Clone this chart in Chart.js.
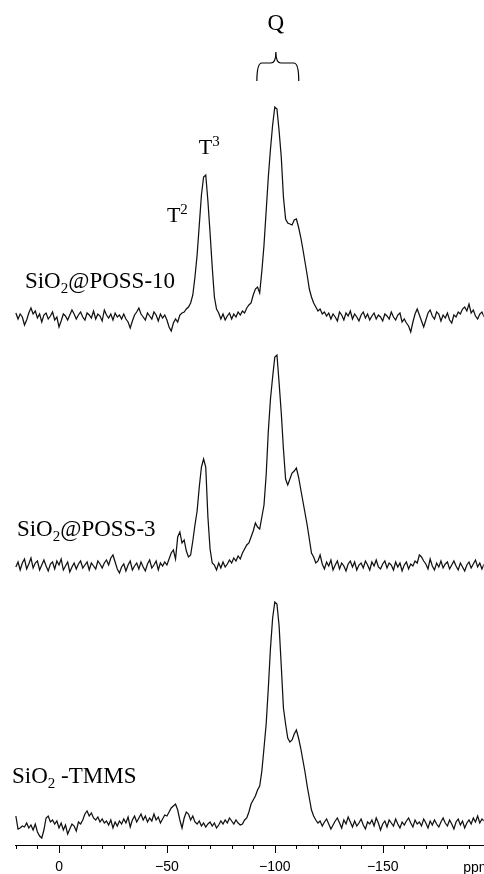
<!DOCTYPE html>
<html lang="en">
<head>
    <meta charset="UTF-8">
    <title>29Si NMR spectra</title>
    <script src="https://cdn.jsdelivr.net/npm/chart.js"></script>
    <style>
        body { margin: 0; background: #fff; }
    </style>
</head>
<body>

    <canvas id="nmrchart" width="484" height="874"></canvas>

    <script>
        // chemical shift axis: first point and spacing (ppm)
        const PPM_START = 20;
        const PPM_STEP = 1;

        // tick positions on the shift axis, labels only on multiples of 50
        const tickValues = [20, 10, 0, -10, -20, -30, -40, -50, -60, -70, -80, -90, -100,
            -110, -120, -130, -140, -150, -160, -170, -180, -190];

        const sampleNames = ["SiO2@POSS-10", "SiO2@POSS-3", "SiO2-TMMS"];

        // intensities, one value per ppm from +20 down to -197
        const poss10 = [
            4, -2, 3, 0, -8, -3, 4, 9, 3, 6,            // 20..11
            -1, 3, -5, 2, 4, -2, 1, 5, -3, 0,           // 10..1
            -10, -4, 3, 1, -3, 2, 7, 3, -2, 2,          // 0..-9
            5, 0, -3, 4, 2, -1, 6, -2, 3, 1,            // -10..-19
            -4, 7, 2, -1, 3, -3, 4, 0, 2, -2,           // -20..-29
            3, -2, -5, -11, -4, 2, 5, 9, 3, 0,          // -30..-39
            -3, 4, 1, -2, 5, 2, -4, 3, -1, 2,           // -40..-49
            -3, -10, -14, -6, -2, -5, 2, 4, 5, 8,       // -50..-59
            10, 14, 22, 40, 62, 92, 122, 140, 142, 116, // -60..-69
            84, 50, 20, 8, 4, -2, 3, -3, 1, 4,          // -70..-79
            -2, 3, 0, 5, 2, 6, 4, 9, 12, 14,            // -80..-89
            22, 28, 30, 24, 46, 72, 106, 140, 168, 192, // -90..-99
            210, 208, 186, 160, 120, 98, 94, 93, 92, 97,// -100..-109
            98, 90, 80, 68, 55, 42, 28, 20, 14, 10,     // -110..-119
            6, 8, 3, 5, 1, 4, -2, 3, 0, -4,             // -120..-129
            5, 2, -3, 4, 1, 6, -2, 3, 0, -4,            // -130..-139
            2, 5, -1, 3, -3, 1, 4, -2, 2, 0,            // -140..-149
            -4, 3, 1, -2, 5, 0, -3, 2, 4, -5,           // -150..-159
            -2, -6, -9, -15, -5, 3, 8, 2, -4, -10,      // -160..-169
            -3, 4, 7, 1, -2, 5, 3, -4, 2, -1,           // -170..-179
            4, -3, -6, 2, 0, 5, 3, 8, 10, 6,            // -180..-189
            13, 4, 7, 1, -2, 3, 5, 0                    // -190..-197
        ];

        const poss3 = [
            0, 5, -3, 4, 8, -2, 3, 9, -1, 4,
            6, -3, 2, 7, 1, -4, 3, 5, -2, 6,
            2, 8, -3, 1, 5, -5, 0, 4, -2, 3,
            6, -1, 2, 5, -3, 4, 1, -2, 6, 3,
            -1, 4, 7, 2, 9, 12, 5, -2, -6, 0,
            3, -4, 2, 6, -3, 1, 4, -2, 5, 0,
            -4, 3, 7, -1, 2, 6, -3, 4, 1, 5,
            2, 8, 14, 17, 8, 30, 35, 24, 27, 16,
            10, 12, 26, 42, 56, 80, 100, 108, 100, 50,
            18, 4, 2, -3, 4, -1, 5, 0, 3, 7,
            4, 9, 6, 11, 8, 14, 18, 22, 24, 30,
            36, 44, 40, 38, 50, 62, 92, 136, 168, 190,
            210, 212, 184, 154, 118, 88, 82, 88, 94, 96,
            99, 90, 78, 66, 54, 42, 28, 14, 10, 4,
            6, 12, 3, -2, 5, 1, 7, -3, 2, 6,
            -2, 4, 1, -4, 3, 6, 0, 5, -3, 2,
            4, -1, 6, 2, -3, 5, 1, 7, 0, -2,
            3, 6, -1, 4, 2, -3, 5, 0, 4, -4,
            2, 5, -2, 3, 1, 6, 4, 12, 10, 6,
            3, -2, 8, 1, -3, 4, 0, 6, -1, 3,
            5, -2, 2, 6, 1, -3, 4, 0, -4, 2,
            5, -1, 3, 7, 0, 4, -2, 3
        ];

        const tmms = [
            10, -3, -2, 0, -1, 3, -2, 1, -4, 2,
            -6, -10, -12, -4, 8, 10, 4, 6, 2, 5,
            -2, 3, -4, 1, -8, -3, 2, 0, -5, 4,
            2, 6, 12, 15, 10, 13, 8, 6, 9, 4,
            7, 3, 5, 1, 6, -2, 4, 0, 5, 2,
            7, 3, 9, -1, 6, 10, 4, 8, 12, 6,
            10, 4, 8, 5, 12, 6, 9, 3, 7, 11,
            10, 14, 18, 20, 22, 16, 6, -2, 8, 14,
            12, 6, 10, 4, 2, 5, 0, 3, -1, 2,
            4, 0, 3, -2, 1, 5, 2, 6, 3, 8,
            5, 2, 6, 3, 1, 2, 6, 8, 14, 22,
            26, 30, 36, 40, 55, 78, 102, 138, 178, 208,
            224, 222, 200, 160, 118, 102, 88, 84, 86, 92,
            96, 88, 78, 66, 54, 40, 28, 16, 10, 6,
            3, 5, 0, 4, 7, 2, -3, 1, 5, 8,
            3, -2, 6, 2, 9, 4, -1, 5, 0, 3,
            7, 1, -3, 4, 2, 6, 0, 8, 3, -4,
            2, 5, -1, 6, 3, 0, 7, 2, -2, 4,
            1, 5, 8, 3, -1, 6, 2, 4, 0, 7,
            3, -2, 5, 1, 6, 2, -1, 4, 8, 3,
            0, 6, 2, -3, 4, 7, 1, 5, -2, 3,
            6, 2, 8, 4, 10, 3, 7, 5
        ];

        // vertical stacking of the three spectra
        const offsets = [528, 278, 19];

        function toPoints(arr, off) {
            return arr.map((v, i) => ({x: PPM_START - i * PPM_STEP, y: v + off}));
        }

        function richText(ctx, parts, x, y, size) {
            parts.forEach(p => {
                const mode = p[1];
                const s = mode ? Math.round(size * 0.66) : size;
                ctx.font = s + 'px "Liberation Serif", "Times New Roman", serif';
                let dy = 0;
                if (mode === 'sub') dy = size * 0.22;
                if (mode === 'sup') dy = -size * 0.36;
                ctx.fillText(p[0], x, y + dy);
                x += ctx.measureText(p[0]).width;
            });
        }

        const decor = {
            id: 'decor',
            afterDraw(chart) {
                const ctx = chart.ctx;
                const xs = chart.scales.x, ys = chart.scales.y;
                const axisY = chart.chartArea.bottom;
                ctx.save();
                ctx.strokeStyle = '#000';
                ctx.fillStyle = '#000';
                ctx.lineWidth = 1;

                // major / minor tick marks
                xs.ticks.forEach(t => {
                    const px = Math.round(xs.getPixelForValue(t.value)) + 0.5;
                    const len = t.value % 50 === 0 ? 8 : 4;
                    ctx.beginPath();
                    ctx.moveTo(px, axisY);
                    ctx.lineTo(px, axisY + len);
                    ctx.stroke();
                });

                ctx.font = '14px "Liberation Sans", Arial, sans-serif';
                ctx.textBaseline = 'alphabetic';
                ctx.fillText('ppm', xs.getPixelForValue(-187.3), axisY + 27);

                // sample names
                const P = v => xs.getPixelForValue(v);
                const V = v => ys.getPixelForValue(v);
                richText(ctx, [['SiO'], ['2', 'sub'], ['@POSS-10']], P(15.8), V(557), 23);
                richText(ctx, [['SiO'], ['2', 'sub'], ['@POSS-3']], P(19.5), V(309), 23);
                richText(ctx, [['SiO'], ['2', 'sub'], [' -TMMS']], P(21.8), V(62), 23);

                // peak labels
                richText(ctx, [['T'], ['3', 'sup']], P(-64.8), V(691), 22);
                richText(ctx, [['T'], ['2', 'sup']], P(-50), V(623), 22);
                ctx.font = '23px "Liberation Serif", "Times New Roman", serif';
                ctx.textAlign = 'center';
                ctx.fillText('Q', P(-100.5), V(815));

                // brace over the Q region
                const x1 = P(-91.7), x2 = P(-111.1), cx = P(-100.5);
                const yb = V(764), ym = V(782), yt = V(793);
                ctx.lineWidth = 1.2;
                ctx.beginPath();
                ctx.moveTo(x1, yb);
                ctx.quadraticCurveTo(x1, ym, x1 + 5, ym);
                ctx.lineTo(cx - 5, ym);
                ctx.quadraticCurveTo(cx, ym, cx, yt);
                ctx.quadraticCurveTo(cx, ym, cx + 5, ym);
                ctx.lineTo(x2 - 5, ym);
                ctx.quadraticCurveTo(x2, ym, x2, yb);
                ctx.stroke();
                ctx.restore();
            }
        };

        const series = [poss10, poss3, tmms];

        const setting = {
            type: 'line',
            data: {
                datasets: series.map((arr, k) => ({
                    label: sampleNames[k],
                    data: toPoints(arr, offsets[k]),
                    borderColor: '#111',
                    borderWidth: 1.25,
                    pointRadius: 0,
                    tension: 0,
                    fill: false
                }))
            },
            options: {
                responsive: false,
                animation: false,
                events: [],
                layout: {padding: {left: 15, right: 0, top: 0, bottom: -15}},
                plugins: {legend: {display: false}, tooltip: {enabled: false}},
                scales: {
                    x: {
                        type: 'linear',
                        reverse: true,
                        min: -196.8,
                        max: 20.4,
                        afterBuildTicks: s => { s.ticks = tickValues.map(v => ({value: v})); },
                        grid: {display: false, drawTicks: false},
                        border: {display: true, color: '#000', width: 1},
                        ticks: {
                            autoSkip: false,
                            maxRotation: 0,
                            padding: 15,
                            color: '#000',
                            font: {family: '"Liberation Sans", Arial, sans-serif', size: 14, lineHeight: 1},
                            callback: v => v % 50 === 0 ? (v < 0 ? '\u2212' + (-v) : String(v)) : ''
                        }
                    },
                    y: {
                        display: false,
                        min: 0,
                        max: 845
                    }
                }
            },
            plugins: [decor]
        };

        new Chart(document.getElementById('nmrchart'), setting);
    </script>
</body>
</html>
